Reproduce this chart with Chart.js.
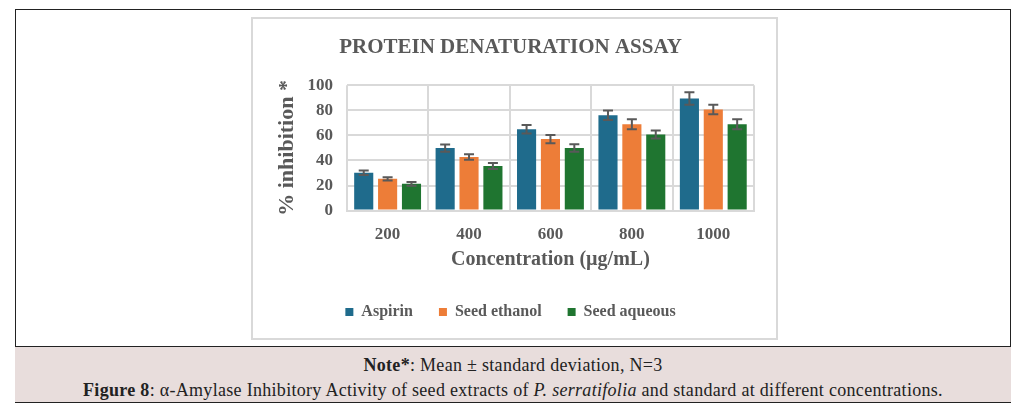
<!DOCTYPE html>
<html>
<head>
<meta charset="utf-8">
<script src="https://cdn.jsdelivr.net/npm/chart.js@4.4.1/dist/chart.umd.min.js"></script>
<style>
  html, body { margin: 0; padding: 0; background: #fff; }
  body { width: 1025px; height: 416px; position: relative; overflow: hidden; font-family: "Liberation Serif", serif; }
  .frame { position: absolute; left: 15px; top: 9px; width: 996px; height: 393px; border: 1.5px solid #222; box-sizing: border-box; }
  .chart-box { position: absolute; left: 251px; top: 17px; width: 527px; height: 323px; border: 2px solid #d9d9d9; box-sizing: border-box; background: #fff; }
  .chart-box canvas { display: block; }
  .caption { position: absolute; left: 15px; top: 346px; width: 996px; height: 57px; background: #e8dddc; border-top: 1.5px solid #222; border-bottom: 1.5px solid #222; box-sizing: border-box; text-align: center; color: #222; font-size: 18px; line-height: 21px; }
  .caption p { margin: 0; }
  .caption .l1 { position: absolute; left: 0; right: 0; top: 8px; letter-spacing: 0.3px; }
  .caption .l2 { position: absolute; left: 0; right: 0; top: 33px; letter-spacing: 0.3px; }
</style>
</head>
<body>
<div class="frame"></div>
<div class="chart-box"><canvas id="assay-chart" width="523" height="319"></canvas></div>
<div class="caption">
  <p class="l1"><b>Note*</b>: Mean ± standard deviation, N=3</p>
  <p class="l2"><b>Figure 8</b>: α-Amylase Inhibitory Activity of seed extracts of <i>P. serratifolia</i> and standard at different concentrations.</p>
</div>
<script>
const concentrations = ['200', '400', '600', '800', '1000'];
const aspirin = [30.1, 49.9, 64.9, 76.0, 89.4];
const aspirinSd = [1.8, 2.9, 3.4, 3.8, 5.0];
const seedEthanol = [25.3, 42.7, 57.0, 68.9, 80.7];
const seedEthanolSd = [1.3, 2.2, 3.2, 4.0, 3.8];
const seedAqueous = [21.4, 35.6, 49.9, 60.7, 68.9];
const seedAqueousSd = [1.5, 2.4, 3.0, 3.2, 4.0];
const yTicks = [0, 20, 40, 60, 80, 100];

const grey = '#595959';

// draws the +/- SD whiskers on top of each bar
const errorBars = {
    id: 'errorBars',
    afterDatasetsDraw(chart) {
        const ctx = chart.ctx;
        const y = chart.scales.y;
        ctx.save();
        ctx.strokeStyle = grey;
        ctx.lineWidth = 2;
        chart.data.datasets.forEach((ds, i) => {
            chart.getDatasetMeta(i).data.forEach((bar, j) => {
                const v = ds.data[j], sd = ds.sd[j];
                const top = y.getPixelForValue(v + sd);
                const bot = y.getPixelForValue(v - sd);
                ctx.beginPath();
                ctx.moveTo(bar.x, top); ctx.lineTo(bar.x, bot);
                ctx.moveTo(bar.x - 5, top); ctx.lineTo(bar.x + 5, top);
                ctx.moveTo(bar.x - 5, bot); ctx.lineTo(bar.x + 5, bot);
                ctx.stroke();
            });
        });
        ctx.restore();
    }
};

const serif = '"Liberation Serif", "Times New Roman", serif';

new Chart(document.getElementById('assay-chart'), {
    type: 'bar',
    data: {
        labels: concentrations,
        datasets: [
            { label: 'Aspirin', data: aspirin, sd: aspirinSd, backgroundColor: '#1f6b8c' },
            { label: 'Seed ethanol', data: seedEthanol, sd: seedEthanolSd, backgroundColor: '#ed7d38' },
            { label: 'Seed aqueous', data: seedAqueous, sd: seedAqueousSd, backgroundColor: '#1f7530' }
        ]
    },
    options: {
        responsive: false,
        animation: false,
        datasets: { bar: { categoryPercentage: 0.88, barPercentage: 0.8 } },
        layout: { padding: { left: 14, right: 22, top: 6, bottom: 8 } },
        scales: {
            x: {
                grid: { color: '#d9d9d9', lineWidth: 2, drawTicks: false, offset: true },
                border: { color: '#d9d9d9', width: 2 },
                ticks: { color: grey, font: { family: serif, size: 17, weight: 'bold' }, padding: 14 },
                title: { display: true, text: 'Concentration (µg/mL)', color: grey,
                         font: { family: serif, size: 20, weight: 'bold' }, padding: { top: -11, bottom: 6 } }
            },
            y: {
                min: 0, max: 100,
                afterBuildTicks: (axis) => { axis.ticks = yTicks.map(v => ({ value: v })); },
                grid: { color: '#d9d9d9', lineWidth: 2, drawTicks: false },
                border: { display: false },
                ticks: { color: grey, font: { family: serif, size: 17, weight: 'bold' }, padding: 14 },
                title: { display: true, text: '% inhibition *', color: grey,
                         font: { family: serif, size: 22, weight: 'bold' }, padding: { top: 7, bottom: -7 } }
            }
        },
        plugins: {
            title: {
                display: true, text: 'PROTEIN DENATURATION ASSAY', color: grey,
                font: { family: serif, size: 21, weight: 'bold' }, padding: { top: 10, bottom: 25 }
            },
            legend: {
                position: 'bottom',
                labels: { color: grey, boxWidth: 8, boxHeight: 8, padding: 26,
                          font: { family: serif, size: 16, weight: 'bold' } }
            },
            tooltip: { enabled: false }
        }
    },
    plugins: [errorBars]
});
</script>
</body>
</html>
